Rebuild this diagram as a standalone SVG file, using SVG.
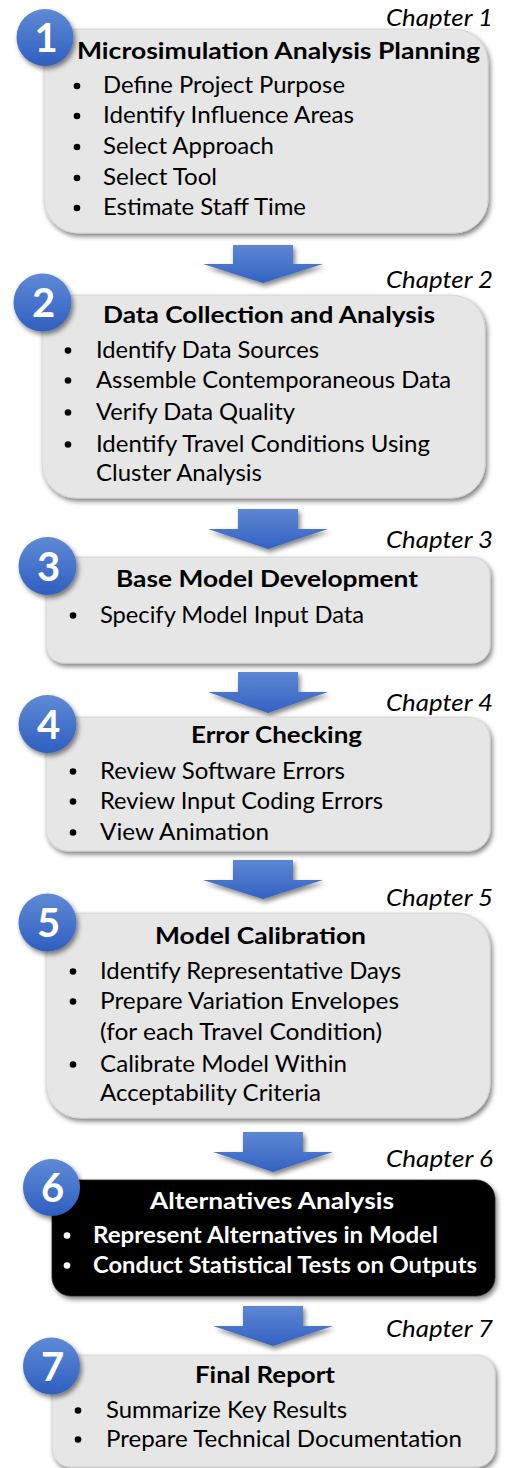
<svg xmlns="http://www.w3.org/2000/svg" width="505" height="1468" viewBox="0 0 505 1468">
  <defs>
    <linearGradient id="blueFill" x1="0" y1="0" x2="0" y2="1">
      <stop offset="0" stop-color="#5f8ad6"/>
      <stop offset="1" stop-color="#2f5fc0"/>
    </linearGradient>
    <linearGradient id="arrowFill" x1="0" y1="0" x2="0" y2="1">
      <stop offset="0" stop-color="#5d87d3"/>
      <stop offset="1" stop-color="#3362c3"/>
    </linearGradient>
    <filter id="shadow" x="-10%" y="-10%" width="125%" height="130%">
      <feGaussianBlur in="SourceAlpha" stdDeviation="2.5"/>
      <feOffset dx="2" dy="3" result="b"/>
      <feComponentTransfer><feFuncA type="linear" slope="0.5"/></feComponentTransfer>
      <feMerge><feMergeNode/><feMergeNode in="SourceGraphic"/></feMerge>
    </filter>
    <style>
      .box { fill: #e6e6e6; stroke: #d0d0d0; stroke-width: 0.8; filter: url(#shadow); }
      .dark { fill: #000000; stroke: #222; }
      .badge { fill: url(#blueFill); filter: url(#shadow); }
      .num { font-family: Lato, "Liberation Sans", sans-serif; font-weight: 700; font-size: 40px; fill: #ffffff; text-anchor: middle; }
      .h { font-family: Lato, "Liberation Sans", sans-serif; font-weight: 700; font-size: 23.5px; fill: #000; }
      .t { font-family: Lato, "Liberation Sans", sans-serif; font-size: 23.5px; fill: #000; }
      .w { fill: #ffffff; font-weight: 700; }
      .ch { font-family: Lato, "Liberation Sans", sans-serif; font-style: italic; font-size: 24px; fill: #000; }
      .dot { fill: #000; }
      .wdot { fill: #fff; }
      .arrow { fill: url(#arrowFill); filter: url(#shadow); }
    </style>
  </defs>

  <rect width="505" height="1468" fill="#ffffff"/>

  <!-- block arrows between the steps -->
  <g id="connectors">
    <polygon class="arrow" points="233,245 293,245 293,264 323,264 263,283 203,264 233,264"/>
    <polygon class="arrow" points="238,509 298,509 298,529 328,529 268,549 208,529 238,529"/>
    <polygon class="arrow" points="238,672 298,672 298,692 328,692 268,713 208,692 238,692"/>
    <polygon class="arrow" points="233,860 293,860 293,880 323,880 263,899 203,880 233,880"/>
    <polygon class="arrow" points="243,1132 303,1132 303,1152 333,1152 273,1172 213,1152 243,1152"/>
    <polygon class="arrow" points="243,1306 303,1306 303,1326 333,1326 273,1346 213,1326 243,1326"/>
  </g>

  <!-- Step 1 -->
  <g id="step1">
    <text class="ch" x="386" y="26" textLength="107" lengthAdjust="spacingAndGlyphs">Chapter 1</text>
    <rect class="box" x="44" y="29" width="444" height="204" rx="34"/>
    <circle class="badge" cx="45" cy="37.5" r="28.5"/>
    <text class="num" x="46" y="52">1</text>
    <text class="h" x="77" y="59" textLength="403" lengthAdjust="spacingAndGlyphs">Microsimulation Analysis Planning</text>
    <circle class="dot" cx="77" cy="86" r="3.3"/>
    <text class="t" x="103" y="93" textLength="242" lengthAdjust="spacingAndGlyphs">Define Project Purpose</text>
    <circle class="dot" cx="77" cy="116" r="3.3"/>
    <text class="t" x="103" y="123" textLength="251" lengthAdjust="spacingAndGlyphs">Identify Influence Areas</text>
    <circle class="dot" cx="77" cy="147" r="3.3"/>
    <text class="t" x="103" y="154" textLength="171" lengthAdjust="spacingAndGlyphs">Select Approach</text>
    <circle class="dot" cx="77" cy="178" r="3.3"/>
    <text class="t" x="103" y="185" textLength="114" lengthAdjust="spacingAndGlyphs">Select Tool</text>
    <circle class="dot" cx="77" cy="208" r="3.3"/>
    <text class="t" x="103" y="215" textLength="203" lengthAdjust="spacingAndGlyphs">Estimate Staff Time</text>
  </g>

  <!-- Step 2 -->
  <g id="step2">
    <text class="ch" x="386" y="288" textLength="107" lengthAdjust="spacingAndGlyphs">Chapter 2</text>
    <rect class="box" x="42" y="295" width="443" height="203" rx="34"/>
    <circle class="badge" cx="42.5" cy="302.5" r="29"/>
    <text class="num" x="43.5" y="317">2</text>
    <text class="h" x="103" y="323" textLength="332" lengthAdjust="spacingAndGlyphs">Data Collection and Analysis</text>
    <circle class="dot" cx="68" cy="350.5" r="3.3"/>
    <text class="t" x="96" y="358" textLength="223" lengthAdjust="spacingAndGlyphs">Identify Data Sources</text>
    <circle class="dot" cx="68" cy="380.5" r="3.3"/>
    <text class="t" x="96" y="388" textLength="355" lengthAdjust="spacingAndGlyphs">Assemble Contemporaneous Data</text>
    <circle class="dot" cx="68" cy="412.5" r="3.3"/>
    <text class="t" x="96" y="420" textLength="199" lengthAdjust="spacingAndGlyphs">Verify Data Quality</text>
    <circle class="dot" cx="68" cy="444.5" r="3.3"/>
    <text class="t" x="96" y="452" textLength="334" lengthAdjust="spacingAndGlyphs">Identify Travel Conditions Using</text>
    <text class="t" x="96" y="481" textLength="166" lengthAdjust="spacingAndGlyphs">Cluster Analysis</text>
  </g>

  <!-- Step 3 -->
  <g id="step3">
    <text class="ch" x="386" y="548" textLength="107" lengthAdjust="spacingAndGlyphs">Chapter 3</text>
    <rect class="box" x="46" y="557" width="444" height="106" rx="18"/>
    <circle class="badge" cx="47.5" cy="566" r="29"/>
    <text class="num" x="48.5" y="580.5">3</text>
    <text class="h" x="116" y="587" textLength="302" lengthAdjust="spacingAndGlyphs">Base Model Development</text>
    <circle class="dot" cx="73" cy="615.5" r="3.3"/>
    <text class="t" x="100" y="623" textLength="264" lengthAdjust="spacingAndGlyphs">Specify Model Input Data</text>
  </g>

  <!-- Step 4 -->
  <g id="step4">
    <text class="ch" x="386" y="711" textLength="107" lengthAdjust="spacingAndGlyphs">Chapter 4</text>
    <rect class="box" x="46" y="717" width="444" height="134" rx="22"/>
    <circle class="badge" cx="47.5" cy="724" r="29"/>
    <text class="num" x="48.5" y="738.5">4</text>
    <text class="h" x="191" y="743" textLength="171" lengthAdjust="spacingAndGlyphs">Error Checking</text>
    <circle class="dot" cx="73" cy="771.5" r="3.3"/>
    <text class="t" x="100" y="779" textLength="245" lengthAdjust="spacingAndGlyphs">Review Software Errors</text>
    <circle class="dot" cx="73" cy="801.5" r="3.3"/>
    <text class="t" x="100" y="809" textLength="283" lengthAdjust="spacingAndGlyphs">Review Input Coding Errors</text>
    <circle class="dot" cx="73" cy="832.5" r="3.3"/>
    <text class="t" x="100" y="840" textLength="169" lengthAdjust="spacingAndGlyphs">View Animation</text>
  </g>

  <!-- Step 5 -->
  <g id="step5">
    <text class="ch" x="386" y="906" textLength="107" lengthAdjust="spacingAndGlyphs">Chapter 5</text>
    <rect class="box" x="46" y="913" width="444" height="205" rx="34"/>
    <circle class="badge" cx="47.5" cy="922.5" r="29"/>
    <text class="num" x="48.5" y="937">5</text>
    <text class="h" x="155" y="944" textLength="211" lengthAdjust="spacingAndGlyphs">Model Calibration</text>
    <circle class="dot" cx="73" cy="971.5" r="3.3"/>
    <text class="t" x="100" y="979" textLength="301" lengthAdjust="spacingAndGlyphs">Identify Representative Days</text>
    <circle class="dot" cx="73" cy="1001.5" r="3.3"/>
    <text class="t" x="100" y="1009" textLength="299" lengthAdjust="spacingAndGlyphs">Prepare Variation Envelopes</text>
    <text class="t" x="100" y="1040" textLength="282" lengthAdjust="spacingAndGlyphs">(for each Travel Condition)</text>
    <circle class="dot" cx="73" cy="1064.5" r="3.3"/>
    <text class="t" x="100" y="1072" textLength="247" lengthAdjust="spacingAndGlyphs">Calibrate Model Within</text>
    <text class="t" x="100" y="1101" textLength="221" lengthAdjust="spacingAndGlyphs">Acceptability Criteria</text>
  </g>

  <!-- Step 6 (highlighted) -->
  <g id="step6">
    <text class="ch" x="386" y="1167" textLength="107" lengthAdjust="spacingAndGlyphs">Chapter 6</text>
    <rect class="box dark" x="52" y="1180" width="443" height="116" rx="19"/>
    <circle class="badge" cx="51.5" cy="1187.5" r="28.5"/>
    <text class="num" x="52.5" y="1202">6</text>
    <text class="h w" x="150" y="1209" textLength="244" lengthAdjust="spacingAndGlyphs">Alternatives Analysis</text>
    <circle class="wdot" cx="67" cy="1235.5" r="3.3"/>
    <text class="t w" x="93" y="1243" textLength="345" lengthAdjust="spacingAndGlyphs">Represent Alternatives in Model</text>
    <circle class="wdot" cx="67" cy="1265.5" r="3.3"/>
    <text class="t w" x="93" y="1273" textLength="384" lengthAdjust="spacingAndGlyphs">Conduct Statistical Tests on Outputs</text>
  </g>

  <!-- Step 7 -->
  <g id="step7">
    <text class="ch" x="386" y="1337" textLength="107" lengthAdjust="spacingAndGlyphs">Chapter 7</text>
    <rect class="box" x="52" y="1355" width="443" height="112" rx="19"/>
    <circle class="badge" cx="51.5" cy="1366" r="28.5"/>
    <text class="num" x="52.5" y="1380.5">7</text>
    <text class="h" x="195" y="1383" textLength="140" lengthAdjust="spacingAndGlyphs">Final Report</text>
    <circle class="dot" cx="78" cy="1410.5" r="3.3"/>
    <text class="t" x="106" y="1418" textLength="241" lengthAdjust="spacingAndGlyphs">Summarize Key Results</text>
    <circle class="dot" cx="78" cy="1439.5" r="3.3"/>
    <text class="t" x="106" y="1447" textLength="356" lengthAdjust="spacingAndGlyphs">Prepare Technical Documentation</text>
  </g>
</svg>
